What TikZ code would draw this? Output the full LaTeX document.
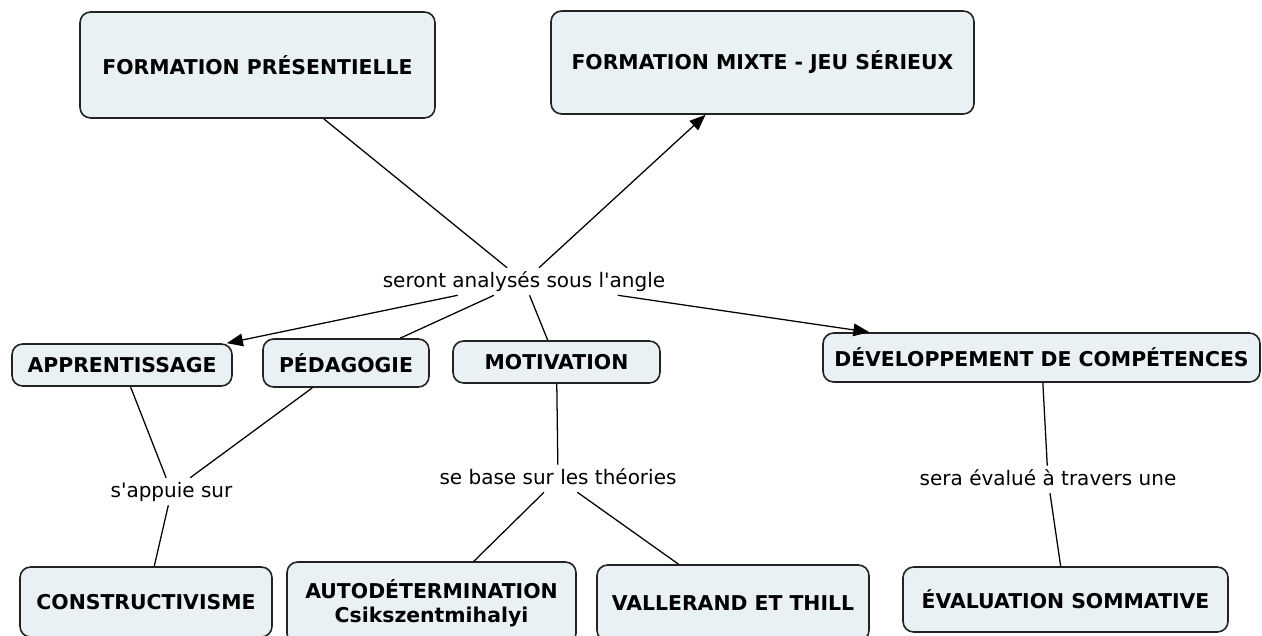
\documentclass[tikz,border=0pt]{standalone}
\usepackage{fontspec}
\setmainfont{DejaVu Sans}
\usetikzlibrary{arrows.meta,calc}
\definecolor{boxfill}{HTML}{EAF1F4}
\definecolor{boxline}{HTML}{222222}
\def\pxu{0.75pt}
\begin{document}
\begin{tikzpicture}[x=0.75pt,y=-0.75pt,
  concept/.style={draw=boxline, fill=boxfill, line width=1.2pt, rounded corners=8pt,
    inner sep=0pt, align=center, font=\bfseries\fontsize{15.3}{18}\selectfont},
  linklabel/.style={inner sep=2.25pt, font=\fontsize{15}{18}\selectfont,
    text height=12pt, text depth=3.75pt, anchor=base},
  conn/.style={line width=0.95pt, draw=black},
  arr/.style={conn, -{Triangle[length=12pt,width=9.5pt]}},
]
\useasboundingbox (0,0) rectangle (1262,635);

\node[concept, minimum width=355*\pxu, minimum height=106*\pxu] (pres) at (257.5,65) {FORMATION PRÉSENTIELLE};
\node[concept, minimum width=423*\pxu, minimum height=103*\pxu] (mixte) at (762.5,62.5) {FORMATION MIXTE - JEU SÉRIEUX};
\node[concept, minimum width=220*\pxu, minimum height=42*\pxu] (appr) at (122,365) {APPRENTISSAGE};
\node[concept, minimum width=166*\pxu, minimum height=48*\pxu] (peda) at (346,363) {PÉDAGOGIE};
\node[concept, minimum width=207*\pxu, minimum height=42*\pxu] (motiv) at (556.5,362) {MOTIVATION};
\node[concept, minimum width=437*\pxu, minimum height=49*\pxu] (dev) at (1041.5,357.5) {DÉVELOPPEMENT DE COMPÉTENCES};
\node[concept, minimum width=252*\pxu, minimum height=70*\pxu] (constr) at (146,602) {CONSTRUCTIVISME};
\node[concept, minimum width=289*\pxu, minimum height=82*\pxu] (auto) at (431.5,603) {AUTODÉTERMINATION\\Csikszentmihalyi};
\node[concept, minimum width=272*\pxu, minimum height=76*\pxu] (vall) at (733,603) {VALLERAND ET THILL};
\node[concept, minimum width=325*\pxu, minimum height=65*\pxu] (eval) at (1065.5,599.5) {ÉVALUATION SOMMATIVE};

\node[linklabel] (l1) at (524,287) {seront analysés sous l\textquotesingle angle};
\node[linklabel] (l2) at (171.5,497) {s\textquotesingle appuie sur};
\node[linklabel] (l3) at (558,484) {se base sur les théories};
\node[linklabel] (l4) at (1048,485) {sera évalué à travers une};

\draw[conn] (pres) -- (l1);
\draw[arr] (l1) -- (mixte);
\draw[arr] (l1) -- (appr);
\draw[conn] (l1) -- (peda);
\draw[conn] (l1) -- (motiv);
\draw[arr] (l1) -- (dev);
\draw[conn] (appr) -- (l2);
\draw[conn] (peda) -- (l2);
\draw[conn] (l2) -- (constr);
\draw[conn] (motiv) -- (l3);
\draw[conn] (l3) -- (auto);
\draw[conn] (l3) -- (vall);
\draw[conn] (dev) -- (l4);
\draw[conn] (l4) -- (eval);
\end{tikzpicture}
\end{document}
